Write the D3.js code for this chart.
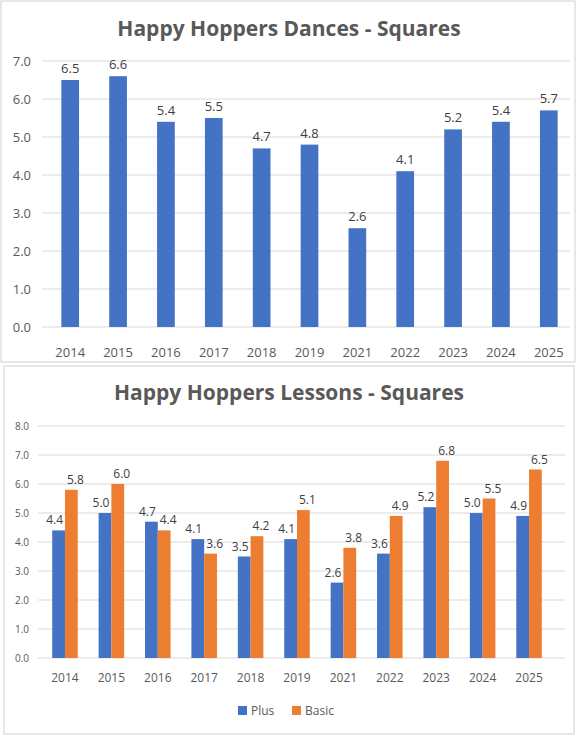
<!DOCTYPE html><html><head><meta charset="utf-8">
<script src="https://cdn.jsdelivr.net/npm/d3@7"></script>
<style>body{margin:0;background:#fff}svg{display:block;font-family:"Open Sans",sans-serif}</style></head><body>
<svg id="c" width="576" height="736"></svg>
<script>
const years=["2014","2015","2016","2017","2018","2019","2021","2022","2023","2024","2025"];
const dances=[6.5,6.6,5.4,5.5,4.7,4.8,2.6,4.1,5.2,5.4,5.7];
const plus=[4.4,5.0,4.7,4.1,3.5,4.1,2.6,3.6,5.2,5.0,4.9];
const basic=[5.8,6.0,4.4,3.6,4.2,5.1,3.8,4.9,6.8,5.5,6.5];
const topTicks=[0,1,2,3,4,5,6,7];
const botTicks=[0,1,2,3,4,5,6,7,8];
const svg=d3.select("#c");
const txt="#595959",grid="#d9d9d9",blue="#4472C4",orange="#ED7D31";
svg.append("rect").attr("x",1).attr("y",1).attr("width",574).attr("height",361).attr("fill","none").attr("stroke","#d0d0d0");
svg.append("rect").attr("x",4).attr("y",366).attr("width",570).attr("height",368).attr("fill","none").attr("stroke","#d0d0d0");
svg.append("text").attr("x",289).attr("y",36).attr("text-anchor","middle").attr("font-size",21).attr("font-weight","bold").attr("fill",txt).text("Happy Hoppers Dances - Squares");
const x1=d3.scaleBand().domain(years).range([47,572]).paddingInner(0.63).paddingOuter(0.3);
const y1=d3.scaleLinear().domain([0,7]).range([327,61]);
const g1=svg.append("g");
g1.selectAll("line.g").data(topTicks).join("line").attr("x1",42).attr("x2",570).attr("y1",d=>y1(d)).attr("y2",d=>y1(d)).attr("stroke",grid);
g1.selectAll("text.yt").data(topTicks).join("text").attr("x",31).attr("y",d=>y1(d)+5).attr("text-anchor","end").attr("font-size",13).attr("fill",txt).text(d=>d.toFixed(1));
g1.selectAll("rect").data(dances).join("rect").attr("x",(d,i)=>x1(years[i])).attr("width",x1.bandwidth()).attr("y",d=>y1(d)).attr("height",d=>y1(0)-y1(d)).attr("fill",blue);
g1.selectAll("text.v").data(dances).join("text").attr("x",(d,i)=>x1(years[i])+x1.bandwidth()/2).attr("y",d=>y1(d)-7).attr("text-anchor","middle").attr("font-size",13).attr("fill","#404040").text(d=>d.toFixed(1));
g1.selectAll("text.xl").data(years).join("text").attr("x",d=>x1(d)+x1.bandwidth()/2).attr("y",357).attr("text-anchor","middle").attr("font-size",13).attr("fill",txt).text(d=>d);
svg.append("text").attr("x",289).attr("y",400).attr("text-anchor","middle").attr("font-size",21).attr("font-weight","bold").attr("fill",txt).text("Happy Hoppers Lessons - Squares");
const x2=d3.scaleBand().domain(years).range([42,552]).paddingInner(0.45).paddingOuter(0.22);
const y2=d3.scaleLinear().domain([0,8]).range([658,426]);
const g2=svg.append("g");
g2.selectAll("line").data(botTicks).join("line").attr("x1",38).attr("x2",565).attr("y1",d=>y2(d)).attr("y2",d=>y2(d)).attr("stroke",grid);
g2.selectAll("text.yt").data(botTicks).join("text").attr("x",29).attr("y",d=>y2(d)+4).attr("text-anchor","end").attr("font-size",10).attr("fill",txt).text(d=>d.toFixed(1));
const bw=x2.bandwidth()/2;
[[plus,blue,0],[basic,orange,1]].forEach(([arr,col,k])=>{
 g2.selectAll("rect.s"+k).data(arr).join("rect").attr("x",(d,i)=>x2(years[i])+k*bw).attr("width",bw).attr("y",d=>y2(d)).attr("height",d=>y2(0)-y2(d)).attr("fill",col);
 g2.selectAll("text.v"+k).data(arr).join("text").attr("x",(d,i)=>x2(years[i])+k*bw+bw/2+(k?4:-4)).attr("y",d=>y2(d)-6).attr("text-anchor","middle").attr("font-size",12).attr("fill","#404040").text(d=>d.toFixed(1));
});
g2.selectAll("text.xl").data(years).join("text").attr("x",d=>x2(d)+x2.bandwidth()/2).attr("y",682).attr("text-anchor","middle").attr("font-size",12).attr("fill",txt).text(d=>d);
const leg=[["Plus",blue,238],["Basic",orange,292]];
leg.forEach(([n,c,lx])=>{svg.append("rect").attr("x",lx).attr("y",706).attr("width",9).attr("height",9).attr("fill",c);
 svg.append("text").attr("x",lx+13).attr("y",715).attr("font-size",12).attr("fill",txt).text(n);});
</script></body></html>
